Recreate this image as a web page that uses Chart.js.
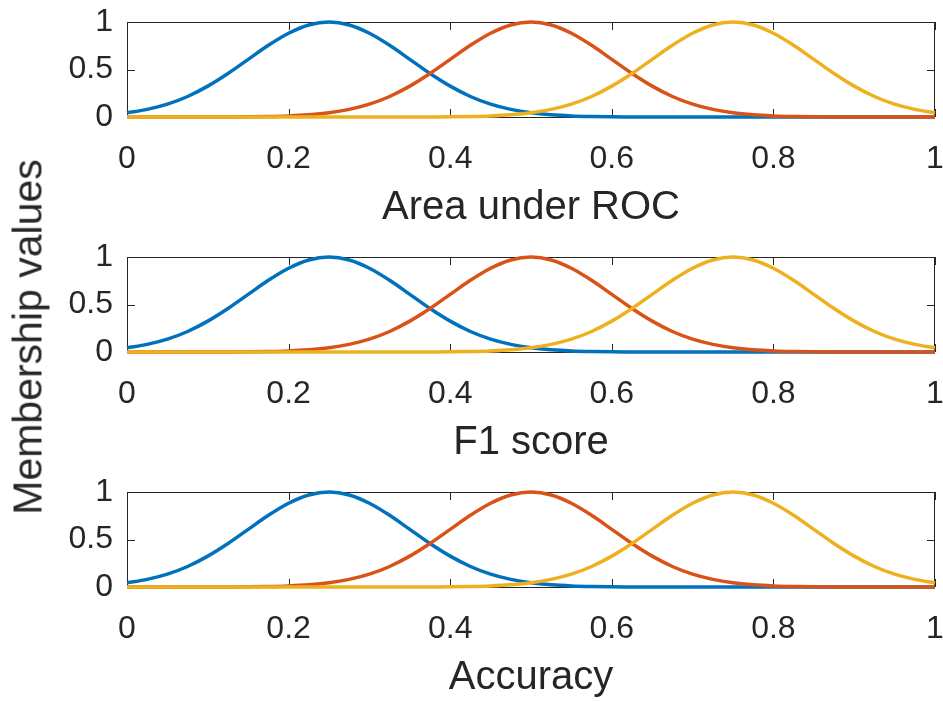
<!DOCTYPE html>
<html>
<head>
<meta charset="utf-8">
<script src="https://cdn.jsdelivr.net/npm/chart.js@4/dist/chart.umd.min.js"></script>
<style>
 body { margin: 0; background: #fff; width: 943px; height: 702px; position: relative; overflow: hidden; }
 .panel { position: absolute; left: 0; width: 943px; height: 235px; }
 #ylabel {
  position: absolute; left: 28px; top: 337px;
  transform: translate(-50%, -50%) rotate(-90deg);
  font: 41px "Liberation Sans", Arial, sans-serif; color: #262626; white-space: nowrap;
 }
</style>
</head>
<body>
<div class="panel" style="top:0px"><canvas id="c0"></canvas></div>
<div class="panel" style="top:235px"><canvas id="c1"></canvas></div>
<div class="panel" style="top:470px"><canvas id="c2"></canvas></div>
<div id="ylabel">Membership values</div>
<script>
// x positions of the sampled curve points
const xs = [0, 0.025, 0.05, 0.075, 0.1, 0.125, 0.15, 0.175, 0.2, 0.225,
 0.25, 0.275, 0.3, 0.325, 0.35, 0.375, 0.4, 0.425, 0.45, 0.475,
 0.5, 0.525, 0.55, 0.575, 0.6, 0.625, 0.65, 0.675, 0.7, 0.725,
 0.75, 0.775, 0.8, 0.825, 0.85, 0.875, 0.9, 0.925, 0.95, 0.975, 1];
// "low" membership (peak at 0.25)
const low = [0.044, 0.08, 0.135, 0.216, 0.325, 0.458, 0.607, 0.755, 0.882, 0.969,
 1, 0.969, 0.882, 0.755, 0.607, 0.458, 0.325, 0.216, 0.135, 0.08,
 0.044, 0.023, 0.011, 0.005, 0.002, 0.001, 0, 0, 0, 0,
 0, 0, 0, 0, 0, 0, 0, 0, 0, 0, 0];
// "medium" membership (peak at 0.5)
const medium = [0, 0, 0, 0, 0, 0.001, 0.002, 0.005, 0.011, 0.023,
 0.044, 0.08, 0.135, 0.216, 0.325, 0.458, 0.607, 0.755, 0.882, 0.969,
 1, 0.969, 0.882, 0.755, 0.607, 0.458, 0.325, 0.216, 0.135, 0.08,
 0.044, 0.023, 0.011, 0.005, 0.002, 0.001, 0, 0, 0, 0, 0];
// "high" membership (peak at 0.75)
const high = [0, 0, 0, 0, 0, 0, 0, 0, 0, 0,
 0, 0, 0, 0, 0, 0.001, 0.002, 0.005, 0.011, 0.023,
 0.044, 0.08, 0.135, 0.216, 0.325, 0.458, 0.607, 0.755, 0.882, 0.969,
 1, 0.969, 0.882, 0.755, 0.607, 0.458, 0.325, 0.216, 0.135, 0.08, 0.044];
const xTicks = [0, 0.2, 0.4, 0.6, 0.8, 1];
const yTicks = [0, 0.5, 1];
const xTitles = ["Area under ROC", "F1 score", "Accuracy"];

const FONT = '"Liberation Sans", Arial, sans-serif';
const INK = "#262626";

// box round the plot area plus inward tick marks (MATLAB look)
const boxPlugin = {
 id: "box",
 beforeDatasetsDraw(chart) {
  const { ctx, chartArea: a, scales } = chart;
  const tl = 8;
  ctx.save();
  ctx.strokeStyle = INK;
  ctx.lineWidth = 1;
  ctx.strokeRect(a.left + 0.5, a.top + 0.5, a.right - a.left - 1, a.bottom - a.top);
  ctx.beginPath();
  xTicks.forEach(v => {
   const px = Math.round(scales.x.getPixelForValue(v)) + 0.5;
   ctx.moveTo(px, a.bottom); ctx.lineTo(px, a.bottom - tl);
   ctx.moveTo(px, a.top); ctx.lineTo(px, a.top + tl);
  });
  yTicks.forEach(v => {
   const py = Math.round(scales.y.getPixelForValue(v)) + 0.5;
   ctx.moveTo(a.left, py); ctx.lineTo(a.left + tl, py);
   ctx.moveTo(a.right, py); ctx.lineTo(a.right - tl, py);
  });
  ctx.stroke();
  ctx.restore();
 }
};

function series(vals) {
 return xs.map((x, i) => ({ x, y: vals[i] }));
}

function makeChart(id, title) {
 return new Chart(document.getElementById(id).getContext("2d"), {
  type: "line",
  data: {
   datasets: [
    { data: series(low), borderColor: "#0072BD", order: 2 },
    { data: series(medium), borderColor: "#D95319", order: 1 },
    { data: series(high), borderColor: "#EDB120", order: 0 }
   ]
  },
  options: {
   responsive: true,
   maintainAspectRatio: false,
   animation: false,
   events: [],
   layout: { padding: { top: 22, right: 8, left: 0, bottom: 0 } },
   elements: {
    line: { borderWidth: 3.5, cubicInterpolationMode: "monotone", fill: false },
    point: { radius: 0 }
   },
   datasets: { line: { clip: false } },
   plugins: { legend: { display: false }, tooltip: { enabled: false } },
   scales: {
    x: {
     type: "linear", min: 0, max: 1,
     grid: { display: false, drawTicks: false },
     border: { display: false },
     afterBuildTicks: s => { s.ticks = xTicks.map(v => ({ value: v })); },
     afterFit: s => { s.height = 118; s.paddingLeft = 0; s.paddingRight = 0; },
     ticks: {
      padding: 23, maxRotation: 0, autoSkip: false, color: INK,
      font: { family: FONT, size: 32 },
      callback: v => String(Math.round(v * 10) / 10)
     },
     title: {
      display: true, text: title, color: INK,
      font: { family: FONT, size: 40 },
      padding: { top: 0, bottom: 3 }
     }
    },
    y: {
     type: "linear", min: 0, max: 1,
     grid: { display: false, drawTicks: false },
     border: { display: false },
     afterBuildTicks: s => { s.ticks = yTicks.map(v => ({ value: v })); },
     afterFit: s => { s.width = 127; s.paddingTop = 0; s.paddingBottom = 0; },
     ticks: {
      padding: 14, color: INK,
      font: { family: FONT, size: 32 },
      callback: v => String(Math.round(v * 10) / 10)
     }
    }
   }
  },
  plugins: [boxPlugin]
 });
}

xTitles.forEach((t, i) => makeChart("c" + i, t));
</script>
</body>
</html>
